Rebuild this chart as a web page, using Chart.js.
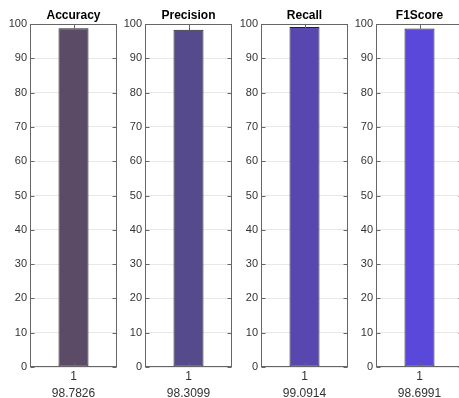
<!DOCTYPE html>
<html>
<head>
<meta charset="utf-8">
<script src="https://cdn.jsdelivr.net/npm/chart.js@4/dist/chart.umd.min.js"></script>
<style>
html,body{margin:0;padding:0;background:#fff;overflow:hidden;width:459px;height:398px;}
.panel{position:absolute;top:0;width:119px;height:398px;}
</style>
</head>
<body>
<script>
// ---- data ----
const metrics = ["Accuracy", "Precision", "Recall", "F1Score"];
const values = [98.7826, 98.3099, 99.0914, 98.6991];
const errors = [2.0, 2.5, 1.5, 2.0];
const categoryLabels = ["1"];
const yMin = 0, yMax = 100, yStep = 10;
const barColors = ["#5b4b66", "#554a8c", "#5847af", "#5a48db"];

const FONT = "'Liberation Sans', Arial, Helvetica, sans-serif";
const panelStep = 115.33;

const boxPlugin = {
  id: 'boxPlugin',
  afterDatasetsDraw(chart, args, opts) {
    const {ctx, chartArea: a, scales} = chart;
    const i = opts.index;
    const meta = chart.getDatasetMeta(0);
    // error bar (upper part), clipped to axes
    ctx.save();
    ctx.beginPath();
    ctx.rect(a.left, a.top, a.right - a.left, a.bottom - a.top);
    ctx.clip();
    ctx.strokeStyle = '#333';
    ctx.lineWidth = 1;
    meta.data.forEach((el, k) => {
      const v = chart.data.datasets[0].data[k];
      const x = Math.round(el.x) + 0.5;
      const y0 = scales.y.getPixelForValue(v);
      const y1 = scales.y.getPixelForValue(v + errors[i]);
      ctx.beginPath();
      ctx.moveTo(x, y0);
      ctx.lineTo(x, y1);
      ctx.moveTo(x - 4, y1);
      ctx.lineTo(x + 4, y1);
      ctx.stroke();
    });
    ctx.restore();
    // axes box and inner ticks
    ctx.save();
    ctx.strokeStyle = '#666';
    ctx.lineWidth = 1;
    const L = Math.round(a.left) + 0.5, R = Math.round(a.right) - 0.5;
    const T = Math.round(a.top) + 0.5, B = Math.round(a.bottom) - 0.5;
    ctx.strokeRect(L, T, R - L, B - T);
    ctx.beginPath();
    for (let v = yMin; v <= yMax; v += yStep) {
      const y = Math.round(scales.y.getPixelForValue(v)) + 0.5;
      ctx.moveTo(L, y); ctx.lineTo(L + 4, y);
      ctx.moveTo(R, y); ctx.lineTo(R - 4, y);
    }
    meta.data.forEach(el => {
      const x = Math.round(el.x) + 0.5;
      ctx.moveTo(x, B); ctx.lineTo(x, B - 4);
      ctx.moveTo(x, T); ctx.lineTo(x, T + 4);
    });
    ctx.stroke();
    ctx.restore();
    // title centred over the axes
    ctx.save();
    ctx.fillStyle = '#000';
    ctx.font = "bold 12px " + FONT;
    ctx.textAlign = 'center';
    ctx.textBaseline = 'alphabetic';
    ctx.fillText(opts.title, (a.left + a.right) / 2, 19);
    ctx.restore();
  }
};

metrics.forEach((name, i) => {
  const div = document.createElement('div');
  div.className = 'panel';
  div.style.left = (i * panelStep) + 'px';
  const cv = document.createElement('canvas');
  div.appendChild(cv);
  document.body.appendChild(div);

  new Chart(cv, {
    type: 'bar',
    data: {
      labels: [[categoryLabels[0], values[i].toFixed(4)]],
      datasets: [{
        data: [values[i]],
        backgroundColor: barColors[i],
        borderColor: '#222',
        borderWidth: 1,
        borderSkipped: false,
        barPercentage: 0.345,
        categoryPercentage: 1.0
      }]
    },
    options: {
      responsive: true,
      maintainAspectRatio: false,
      animation: false,
      devicePixelRatio: 1,
      layout: {padding: {left: 0, right: 2, top: 24, bottom: 0}},
      plugins: {
        legend: {display: false},
        tooltip: {enabled: false},
        title: {display: false},
        boxPlugin: {index: i, title: name}
      },
      scales: {
        x: {
          offset: true,
          grid: {display: false, drawTicks: false},
          border: {display: false},
          ticks: {
            color: '#333',
            padding: 2,
            font: {family: FONT, size: 12, lineHeight: 1.35},
            maxRotation: 0
          },
          afterFit(scale) { scale.height = 31; }
        },
        y: {
          min: yMin,
          max: yMax,
          grid: {color: '#e8e8e8', drawTicks: false},
          border: {display: false},
          ticks: {
            stepSize: yStep,
            color: '#333',
            padding: 3,
            font: {family: FONT, size: 11}
          },
          afterFit(scale) { scale.width = 30; }
        }
      }
    },
    plugins: [boxPlugin]
  });
});
</script>
</body>
</html>
